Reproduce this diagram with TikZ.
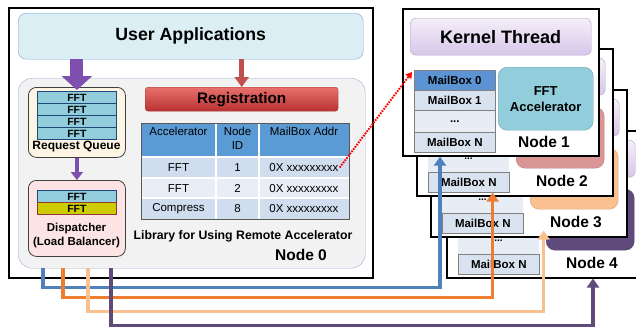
\documentclass[tikz,border=0pt]{standalone}
\usepackage{fontspec}
\setmainfont{Liberation Sans}
\usetikzlibrary{arrows.meta}

\definecolor{uafill}{HTML}{DAEEF3}
\definecolor{ualine}{HTML}{7BA7DA}
\definecolor{libfill}{HTML}{F2F2F2}
\definecolor{libline}{HTML}{95B3D7}
\definecolor{regtop}{HTML}{E8706D}
\definecolor{regbot}{HTML}{B8322F}
\definecolor{regline}{HTML}{A33B38}
\definecolor{rqfill}{HTML}{FEF4E4}
\definecolor{dpfill}{HTML}{FCE4E4}
\definecolor{darkline}{HTML}{404040}
\definecolor{barblue}{HTML}{92CDDC}
\definecolor{barline}{HTML}{1F497D}
\definecolor{baryel}{HTML}{CCCC00}
\definecolor{yelline}{HTML}{953735}
\definecolor{hdr}{HTML}{5B9BD5}
\definecolor{rowA}{HTML}{CFDDEE}
\definecolor{rowB}{HTML}{E9EEF6}
\definecolor{kttop}{HTML}{F4EFF9}
\definecolor{ktbot}{HTML}{D6C6E9}
\definecolor{ktline}{HTML}{B3A2C7}
\definecolor{mbhead}{HTML}{5B93D3}
\definecolor{mbfill}{HTML}{D9E3F0}
\definecolor{mbdots}{HTML}{E8EDF5}
\definecolor{accA}{HTML}{92CDDC}
\definecolor{accB}{HTML}{D99694}
\definecolor{accC}{HTML}{FAC090}
\definecolor{accD}{HTML}{604A7B}
\definecolor{appurple}{HTML}{7F4FAF}
\definecolor{apred}{HTML}{C0504D}
\definecolor{lkblue}{HTML}{4F81BD}
\definecolor{lkorange}{HTML}{ED7D31}
\definecolor{lkpeach}{HTML}{FAC090}
\definecolor{lkpurple}{HTML}{604A7B}

\tikzset{
  wh/.style 2 args={minimum width=#1, minimum height=#2},
  box/.style={draw, rounded corners=#1, inner sep=0pt, anchor=north west, align=center},
  box/.default=6pt,
  frame/.style={draw=black, fill=white, line width=1.5pt, anchor=north west, inner sep=0pt, wh={196pt}{147pt}},
  qbar/.style={draw=barline, line width=0.8pt, anchor=north west, inner sep=0pt, wh={79pt}{12pt},
    font=\bfseries\fontsize{10.5}{11}\selectfont},
  tcell/.style={inner sep=0pt, font=\fontsize{11.5}{14}\selectfont},
  mbox/.style={draw=gray, line width=0.6pt, fill=mbfill, anchor=north west, inner sep=0pt, wh={81pt}{20pt},
    font=\bfseries\fontsize{11.5}{12}\selectfont},
  nlabel/.style={font=\bfseries\fontsize{15.5}{17}\selectfont},
  flink/.style={line width=3.5pt, -{Triangle[width=12pt,length=9pt]}},
}

\begin{document}
\begin{tikzpicture}[x=1pt,y=-1pt]
\useasboundingbox (0,0) rectangle (636,330);
\clip (0,0) rectangle (636,330);

\node[frame, wh={364pt}{270pt}] (fr0) at (8,7) {};
\node[box=8pt, draw=ualine, fill=uafill, wh={345pt}{46pt}, font=\bfseries\fontsize{17.7}{20}\selectfont] (ua) at (18,13) {User Applications};
\node[box=14pt, draw=libline, fill=libfill, wh={347pt}{190pt}] (lib) at (18,78) {};
\node[box=3pt, draw=regline, top color=regtop, bottom color=regbot, wh={193pt}{24pt}, font=\bfseries\fontsize{15.3}{17}\selectfont] (reg) at (145,87) {Registration};

\node[box=8pt, draw=darkline, line width=0.8pt, fill=rqfill, wh={97pt}{70pt}] (rq) at (28,87) {};
\foreach \k in {0,...,3}
  \node[qbar, fill=barblue] (q\k) at (37,91+12*\k) {FFT};
\node[font=\bfseries\fontsize{12}{13}\selectfont] (rqlbl) at (76.5,147) {Request Queue};

\node[box=8pt, draw=darkline, line width=0.8pt, fill=dpfill, wh={97pt}{76pt}] (dp) at (28,180) {};
\node[qbar, fill=barblue] (d1) at (37,190) {FFT};
\node[qbar, fill=baryel, draw=yelline] (d2) at (37,202) {FFT};
\node[align=center, font=\bfseries\fontsize{11.5}{14}\selectfont] (dplbl) at (76.5,236) {Dispatcher\\(Load Balancer)};

\draw[appurple, line width=13pt, -{Triangle[width=30pt,length=14pt]}] (rq.north |- ua.south) -- ([yshift=-3pt]rq.north);
\draw[appurple, line width=4pt, -{Triangle[width=12pt,length=8pt]}] (rq.south) -- (dp.north);
\draw[apred, line width=5pt, -{Triangle[width=14pt,length=10pt]}] (reg.north |- ua.south) -- (reg.north);

\fill[hdr] (141,123) rectangle (349,157);
\foreach \acc/\id/\y/\rc [count=\k] in {FFT/1/157/rowA, FFT/2/178/rowB, Compress/8/198/rowA} {
  \fill[\rc] (141,\y) rectangle (349,\y+21);
  \node[tcell] (acc\k) at (178.5,\y+10.5) {\acc};
  \node[tcell] (id\k) at (237.5,\y+10.5) {\id};
  \node[tcell] (addr\k) at (304,\y+10.5) {0X xxxxxxxxx};
}
\node[tcell, anchor=north] (hacc) at (178.5,127) {Accelerator};
\node[tcell, anchor=north, align=center] (hid) at (237.5,127) {Node\\ID};
\node[tcell, anchor=north] (haddr) at (304,127) {MailBox Addr};
\draw[white, line width=1.2pt] (216,123) -- (216,219) (259,123) -- (259,219)
  (141,157) -- (349,157) (141,178) -- (349,178) (141,198) -- (349,198);
\draw[gray!70!black, line width=0.6pt] (141,123) rectangle (349,219);

\node[font=\bfseries\fontsize{12.3}{14}\selectfont] (libtxt) at (243,236) {Library for Using Remote Accelerator};
\node[nlabel] (n0) at (301,255) {Node 0};

\foreach \i/\dx/\dy/\col in {4/446/130/accD, 3/430/89/accC, 2/416/48/accB} {
  \begin{scope}[shift={(\dx,\dy)}]
    \node[frame] (fr\i) at (0,0) {};
    \node[box=6pt, draw=ktline, top color=kttop, bottom color=ktbot, wh={181pt}{37pt}] (kt\i) at (8,10) {};
    \fill[mbdots] (12,62) rectangle (93,124);
    \node[font=\bfseries\fontsize{10}{11}\selectfont] (dots\i) at (52.5,111) {...};
    \node[mbox] (mbN\i) at (12,124) {MailBox N};
    \node[box=9pt, draw=\col!85!black, fill=\col, wh={88pt}{61pt}] (acc\i) at (100,59) {};
    \node[nlabel] (n\i) at (146,133) {Node \i};
  \end{scope}
}

\node[frame] (fr1) at (402,8) {};
\node[box=6pt, draw=ktline, top color=kttop, bottom color=ktbot, wh={181pt}{37pt}, font=\bfseries\fontsize{18}{20}\selectfont] (kt1) at (410,18) {Kernel Thread};
\node[mbox, fill=mbhead] (mb0) at (414,70) {MailBox 0};
\node[mbox] (mb1) at (414,90) {MailBox 1};
\node[mbox, fill=mbdots, wh={81pt}{22pt}] (mbd) at (414,110) {...};
\node[mbox] (mbN1) at (414,132) {MailBox N};
\node[box=9pt, draw=accA!80!black, fill=accA, wh={95pt}{63pt}, font=\bfseries\fontsize{13}{16}\selectfont] (acc1) at (498,67) {FFT\\Accelerator};
\node[nlabel] (n1) at (544,142) {Node 1};

\draw[red, line width=2pt, dash pattern=on 1.6pt off 1.2pt, -{Triangle[width=7pt,length=6pt]}] ([xshift=1pt]addr1.east) -- ([xshift=-2pt,yshift=-2pt]mb0.north west);

\draw[flink, lkblue] ([xshift=25pt]lib.south west) -- ++(0,19) -| ([xshift=26pt,yshift=-4pt]mbN1.south west);
\draw[flink, lkorange] ([xshift=45pt]lib.south west) -- ++(0,29) -| ([xshift=-17pt]mbN2.south east);
\draw[flink, lkpeach] ([xshift=70pt]lib.south west) -- ++(0,43) -| ([xshift=20pt,yshift=3pt]mbN3.south east);
\draw[flink, lkpurple] ([xshift=93pt]lib.south west) -- ++(0,57) -| ([xshift=147pt]fr4.south west);
\end{tikzpicture}
\end{document}
